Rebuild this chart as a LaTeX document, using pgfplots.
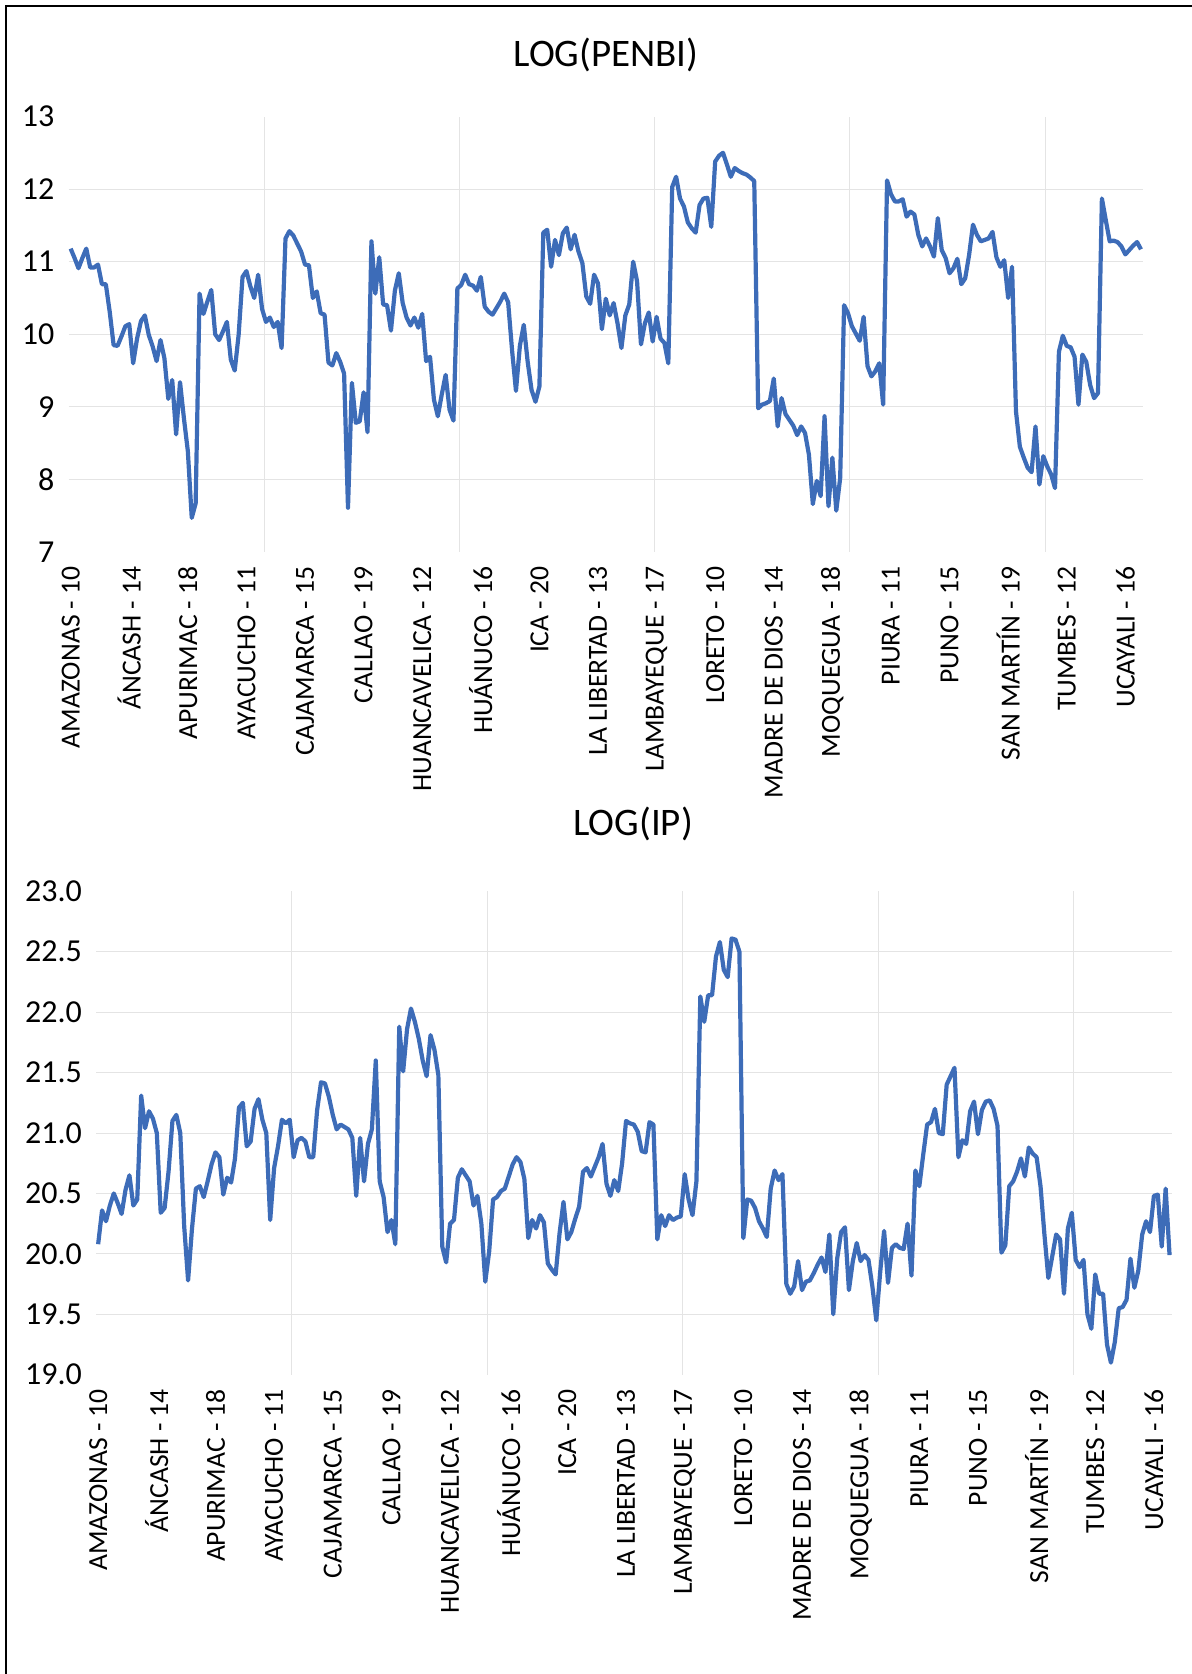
\documentclass[border=0pt]{standalone}
\usepackage{pgfplots}
\pgfplotsset{compat=1.18}
\usepackage{pgfplotstable}
\usepackage{fontspec}
\setmainfont{Carlito}
\definecolor{lineblue}{HTML}{3D6CB8}
\definecolor{gridgray}{HTML}{E4E4E4}

\pgfplotstableread[row sep=\\]{y\\
11.18\\11.05\\10.91\\11.05\\11.18\\10.92\\10.92\\10.96\\10.69\\10.69\\
10.31\\9.85\\9.84\\9.97\\10.11\\10.14\\9.60\\9.94\\10.18\\10.26\\
9.99\\9.83\\9.63\\9.92\\9.67\\9.11\\9.37\\8.62\\9.34\\8.84\\
8.39\\7.47\\7.67\\10.56\\10.28\\10.45\\10.61\\10.00\\9.92\\10.04\\
10.17\\9.65\\9.50\\9.99\\10.79\\10.87\\10.66\\10.50\\10.82\\10.35\\
10.17\\10.23\\10.10\\10.17\\9.81\\11.32\\11.42\\11.36\\11.25\\11.14\\
10.96\\10.95\\10.50\\10.59\\10.29\\10.27\\9.61\\9.57\\9.74\\9.62\\
9.46\\7.61\\9.33\\8.78\\8.80\\9.20\\8.65\\11.28\\10.56\\11.06\\
10.41\\10.40\\10.05\\10.60\\10.84\\10.43\\10.23\\10.12\\10.23\\10.09\\
10.28\\9.63\\9.69\\9.10\\8.87\\9.17\\9.44\\8.96\\8.81\\10.63\\
10.68\\10.82\\10.69\\10.67\\10.60\\10.79\\10.38\\10.31\\10.27\\10.36\\
10.45\\10.56\\10.44\\9.78\\9.22\\9.84\\10.13\\9.62\\9.23\\9.07\\
9.28\\11.40\\11.44\\10.93\\11.30\\11.09\\11.39\\11.47\\11.17\\11.37\\
11.14\\10.98\\10.52\\10.42\\10.82\\10.70\\10.07\\10.49\\10.26\\10.43\\
10.15\\9.81\\10.26\\10.41\\11.00\\10.73\\9.86\\10.15\\10.30\\9.90\\
10.24\\9.94\\9.88\\9.60\\12.03\\12.17\\11.87\\11.76\\11.54\\11.46\\
11.40\\11.78\\11.87\\11.88\\11.48\\12.38\\12.46\\12.50\\12.34\\12.17\\
12.29\\12.25\\12.22\\12.20\\12.16\\12.11\\8.98\\9.03\\9.05\\9.08\\
9.39\\8.73\\9.12\\8.90\\8.82\\8.74\\8.61\\8.73\\8.64\\8.34\\
7.66\\7.98\\7.77\\8.87\\7.63\\8.30\\7.57\\8.02\\10.40\\10.29\\
10.11\\10.01\\9.91\\10.24\\9.56\\9.42\\9.49\\9.60\\9.03\\12.12\\
11.93\\11.83\\11.83\\11.86\\11.62\\11.69\\11.65\\11.37\\11.21\\11.32\\
11.21\\11.07\\11.60\\11.16\\11.05\\10.84\\10.91\\11.04\\10.69\\10.77\\
11.09\\11.51\\11.37\\11.28\\11.30\\11.32\\11.41\\11.06\\10.93\\11.02\\
10.50\\10.93\\8.94\\8.45\\8.30\\8.16\\8.10\\8.73\\7.93\\8.32\\
8.18\\8.07\\7.88\\9.76\\9.98\\9.84\\9.82\\9.69\\9.03\\9.72\\
9.62\\9.30\\9.12\\9.19\\11.87\\11.57\\11.28\\11.29\\11.27\\11.21\\
11.10\\11.16\\11.22\\11.27\\11.17\\
}\penbi

\pgfplotstableread[row sep=\\]{y\\
20.08\\20.36\\20.27\\20.40\\20.50\\20.42\\20.33\\20.53\\20.65\\20.40\\
20.45\\21.31\\21.04\\21.18\\21.12\\21.00\\20.34\\20.38\\20.68\\21.10\\
21.15\\21.00\\20.23\\19.78\\20.21\\20.54\\20.56\\20.47\\20.60\\20.74\\
20.84\\20.80\\20.49\\20.63\\20.59\\20.79\\21.21\\21.25\\20.89\\20.93\\
21.20\\21.28\\21.11\\21.00\\20.28\\20.71\\20.89\\21.11\\21.08\\21.11\\
20.80\\20.94\\20.96\\20.93\\20.80\\20.80\\21.19\\21.42\\21.41\\21.30\\
21.15\\21.03\\21.07\\21.05\\21.03\\20.96\\20.48\\20.96\\20.60\\20.91\\
21.03\\21.60\\20.60\\20.47\\20.18\\20.28\\20.08\\21.88\\21.51\\21.86\\
22.03\\21.92\\21.78\\21.60\\21.47\\21.81\\21.69\\21.48\\20.06\\19.93\\
20.25\\20.28\\20.63\\20.70\\20.65\\20.60\\20.40\\20.48\\20.25\\19.77\\
20.02\\20.45\\20.47\\20.52\\20.54\\20.64\\20.74\\20.80\\20.76\\20.62\\
20.13\\20.28\\20.21\\20.32\\20.26\\19.92\\19.87\\19.83\\20.17\\20.43\\
20.12\\20.18\\20.29\\20.39\\20.68\\20.71\\20.64\\20.72\\20.80\\20.91\\
20.58\\20.48\\20.61\\20.52\\20.75\\21.10\\21.08\\21.07\\21.01\\20.85\\
20.84\\21.09\\21.07\\20.12\\20.32\\20.23\\20.32\\20.28\\20.30\\20.31\\
20.66\\20.45\\20.32\\20.60\\22.13\\21.92\\22.14\\22.14\\22.46\\22.58\\
22.35\\22.29\\22.61\\22.60\\22.50\\20.13\\20.45\\20.44\\20.38\\20.27\\
20.21\\20.14\\20.54\\20.69\\20.61\\20.66\\19.75\\19.67\\19.73\\19.94\\
19.70\\19.77\\19.78\\19.84\\19.91\\19.97\\19.85\\20.16\\19.50\\19.96\\
20.18\\20.22\\19.70\\19.94\\20.09\\19.94\\19.99\\19.95\\19.73\\19.45\\
19.85\\20.19\\19.76\\20.05\\20.08\\20.05\\20.04\\20.25\\19.82\\20.69\\
20.56\\20.82\\21.07\\21.09\\21.20\\21.00\\20.99\\21.40\\21.47\\21.54\\
20.80\\20.94\\20.91\\21.18\\21.26\\20.99\\21.19\\21.26\\21.27\\21.20\\
21.06\\20.01\\20.07\\20.56\\20.60\\20.68\\20.79\\20.64\\20.88\\20.83\\
20.80\\20.56\\20.16\\19.80\\19.98\\20.16\\20.12\\19.67\\20.21\\20.34\\
19.95\\19.89\\19.95\\19.50\\19.38\\19.83\\19.67\\19.67\\19.25\\19.10\\
19.27\\19.55\\19.56\\19.62\\19.96\\19.72\\19.86\\20.16\\20.27\\20.18\\
20.48\\20.49\\20.06\\20.54\\19.99\\
}\ip

\pgfplotsset{
  excelstyle/.style={
    scale only axis,
    anchor=south west,
    xmin=-0.5, xmax=274.5,
    axis line style={draw=none},
    major tick length=0pt,
    tick style={draw=none},
    xtick={0,15,...,270},
    xticklabels={AMAZONAS - 10, ÁNCASH - 14, APURIMAC - 18, AYACUCHO - 11, CAJAMARCA - 15, CALLAO - 19, HUANCAVELICA - 12, HUÁNUCO - 16, ICA - 20, LA LIBERTAD - 13, LAMBAYEQUE - 17, LORETO - 10, MADRE DE DIOS - 14, MOQUEGUA - 18, PIURA - 11, PUNO - 15, SAN MARTÍN - 19, TUMBES - 12, UCAYALI - 16},
    xticklabel style={rotate=90, anchor=east, inner sep=0pt, font=\fontsize{13.8}{14}\selectfont},
    xticklabel shift=7pt,
    yticklabel style={anchor=east, inner sep=0pt, font=\fontsize{16}{17}\selectfont},
    yticklabel shift=7pt,
    extra x ticks={49.5,99.5,149.5,199.5,249.5},
    extra x tick labels={},
    extra x tick style={grid=major},
    extra y tick labels={},
    extra y tick style={grid=major},
    grid style={gridgray, line width=0.5pt},
    clip=false,
  }
}

\begin{document}
\begin{tikzpicture}
\path[use as bounding box] (0pt,0pt) rectangle (596pt,-837pt);
\draw[black, line width=0.8pt] (3pt,-837pt) -- (3pt,-3pt) -- (596pt,-3pt);
\node[font=\fontsize{19.5}{20}\selectfont] at (303pt,-27.5pt) {LOG(PENBI)};
\node[font=\fontsize{19.5}{20}\selectfont] at (316.5pt,-412pt) {LOG(IP)};

\begin{axis}[excelstyle,
  at={(34.35pt,-276pt)}, width=537.1pt, height=217.75pt,
  ymin=7, ymax=13, ytick={7,8,...,13},
  yticklabels={7,8,9,10,11,12,13},
  extra y ticks={8,9,10,11,12}]
\addplot[lineblue, line width=2.1pt, line join=round, mark=none] table[x expr=\coordindex, y=y] {\penbi};
\end{axis}

\begin{axis}[excelstyle,
  at={(48.1pt,-687.35pt)}, width=537.65pt, height=241.7pt,
  ymin=19, ymax=23, ytick={19,19.5,...,23},
  yticklabels={19.0,19.5,20.0,20.5,21.0,21.5,22.0,22.5,23.0},
  extra y ticks={19.5,20,20.5,21,21.5,22,22.5}]
\addplot[lineblue, line width=2.1pt, line join=round, mark=none] table[x expr=\coordindex, y=y] {\ip};
\end{axis}
\end{tikzpicture}
\end{document}
